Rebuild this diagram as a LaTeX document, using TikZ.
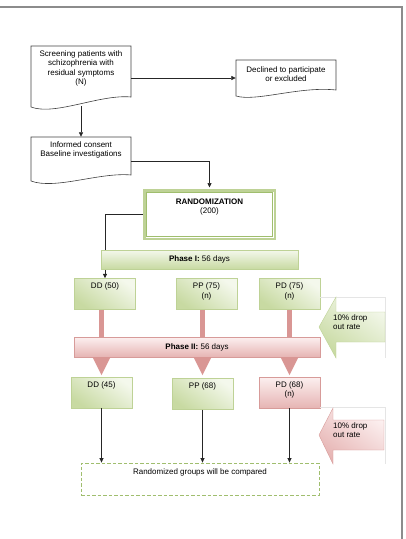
\documentclass[tikz,border=0pt]{standalone}
\usepackage{fontspec}
\setmainfont{Liberation Sans}
\usetikzlibrary{arrows.meta,backgrounds}
\definecolor{grnline}{RGB}{190,210,150}
\definecolor{grndark}{RGB}{160,190,110}
\definecolor{grntop}{RGB}{244,248,236}
\definecolor{grnbot}{RGB}{200,218,162}
\definecolor{pnkline}{RGB}{215,155,153}
\definecolor{pnktop}{RGB}{252,240,240}
\definecolor{pnkbot}{RGB}{230,180,179}
\definecolor{pnkbar}{RGB}{217,150,148}

\begin{document}
\begin{tikzpicture}[x=1pt,y=-1pt,font=\fontsize{8}{9.5}\selectfont,
  conn/.style={black!85,line width=.7pt,-{Triangle[length=4.5pt,width=4pt]}},
  docline/.style={black!75,line width=.6pt},
  doc/.style={minimum width=100pt,inner sep=0pt},
  txt/.style={anchor=north,align=center,inner sep=1.5pt,yshift=-3pt},
  gbox/.style={draw=grnline,top color=grntop,bottom color=grnbot,shading angle=-35,
    minimum width=61pt,minimum height=31pt,inner sep=0pt},
  pbox/.style={gbox,draw=pnkline,top color=pnktop,bottom color=pnkbot},
  gbar/.style={draw=grnline,top color=grntop,bottom color=grnbot,inner sep=0pt},
  pbar/.style={draw=pnkline,top color=pnktop,bottom color=pnkbot,inner sep=0pt},
  droptxt/.style={anchor=north west,align=left,inner sep=1pt}]
\useasboundingbox (0,0) rectangle (405,539);
\draw[black!45,line width=1.2pt] (0,7) -- (402,7) -- (402,539);

\node[doc,minimum height=64pt,label={[txt]north:Screening patients with\\schizophrenia with\\residual symptoms\\(N)}] (screen) at (81,78) {};
\draw[docline] (31,46) -- (131,46) -- (131,97) .. controls (100,94) and (55,116) .. (31,107) -- cycle;
\node[doc,minimum height=36pt,label={[txt,yshift=-2pt]north:Declined to participate\\or excluded}] (declined) at (286,78) {};
\draw[docline] (236,60) -- (336,60) -- (336,90) .. controls (300,86) and (256,102) .. (236,96) -- cycle;
\node[doc,minimum height=48pt,label={[txt]north:Informed consent\\Baseline investigations}] (informed) at (81,161) {};
\draw[docline] (31,137) -- (131,137) -- (131,175) .. controls (100,172) and (55,190) .. (31,181) -- cycle;

\node[draw=grnline,line width=2.5pt,fill=white,minimum width=130.5pt,minimum height=48.5pt,
  label={[txt,yshift=-5pt]north:\textbf{RANDOMIZATION}\\(200)}] (random) at (209.5,214.5) {};
\draw[grndark,line width=.8pt] ([shift={(3.5,3.5)}]random.north west) rectangle ([shift={(-3.5,-3.5)}]random.south east);

\node[gbar,minimum width=197pt,minimum height=19pt] (phase1) at (199.5,259.5) {\textbf{Phase I:} 56 days};
\node[gbox,label={[txt]north:DD (50)}] (dd1) at (105,294) {};
\node[gbox,label={[txt]north:PP (75)\\(n)}] (pp1) at (206.5,294) {};
\node[gbox,label={[txt]north:PD (75)\\(n)}] (pd1) at (289.5,294) {};
\node[pbar,minimum width=246pt,minimum height=20pt] (phase2) at (197,347) {\textbf{Phase II:} 56 days};
\node[gbox,label={[txt]north:DD (45)}] (dd2) at (101.5,392.5) {};
\node[gbox,label={[txt]north:PP (68)}] (pp2) at (202.5,394) {};
\node[pbox,label={[txt]north:PD (68)\\(n)}] (pd2) at (289.5,392.5) {};
\node[draw=grndark,line width=.8pt,dash pattern=on 3.5pt off 2pt,minimum width=238pt,minimum height=32pt,
  label={[txt,yshift=-1pt]north:Randomized groups will be compared}] (cmp) at (200,479) {};

\draw[conn] ([yshift=4pt]screen.south) -- (informed.north);
\draw[conn] (screen.east) -- (declined.west);
\draw[conn,shorten >=1.5pt] (informed.east) -| (random.north);
\begin{pgfonlayer}{background}
\draw[conn] (random.west) -| (dd1.north);
\end{pgfonlayer}
\foreach \a/\b in {dd1/dd2,pp1/pp2,pd1/pd2}{
\draw[pnkbar,line width=5.5pt] (\b.north |- \a.south) -- (\b.north |- phase2.north);
\fill[pnkbar] (\b.north |- phase2.south) ++(-9,0) -- ++(18,0) -- ++(-9,18) -- cycle;
\draw[conn] (\b.south) -- (\b.south |- cmp.north);
}

\draw[black!10] (320,297) -- (385,297) -- (385,358);
\draw[grnline,top color=grntop,bottom color=grnbot,shading angle=-35] (319,327) -- (336,297) -- (336,312) -- (385,312) -- (385,342) -- (336,342) -- (336,358) -- cycle;
\node[droptxt] (drop1) at (332,313) {10\% drop\\out rate};
\draw[black!10] (320,407) -- (385,407) -- (385,464);
\draw[pnkline,top color=pnktop,bottom color=pnkbot,shading angle=-35] (319,435) -- (333,408) -- (333,420) -- (384,420) -- (384,450) -- (333,450) -- (333,464) -- cycle;
\node[droptxt] (drop2) at (332,421) {10\% drop\\out rate};
\end{tikzpicture}
\end{document}
